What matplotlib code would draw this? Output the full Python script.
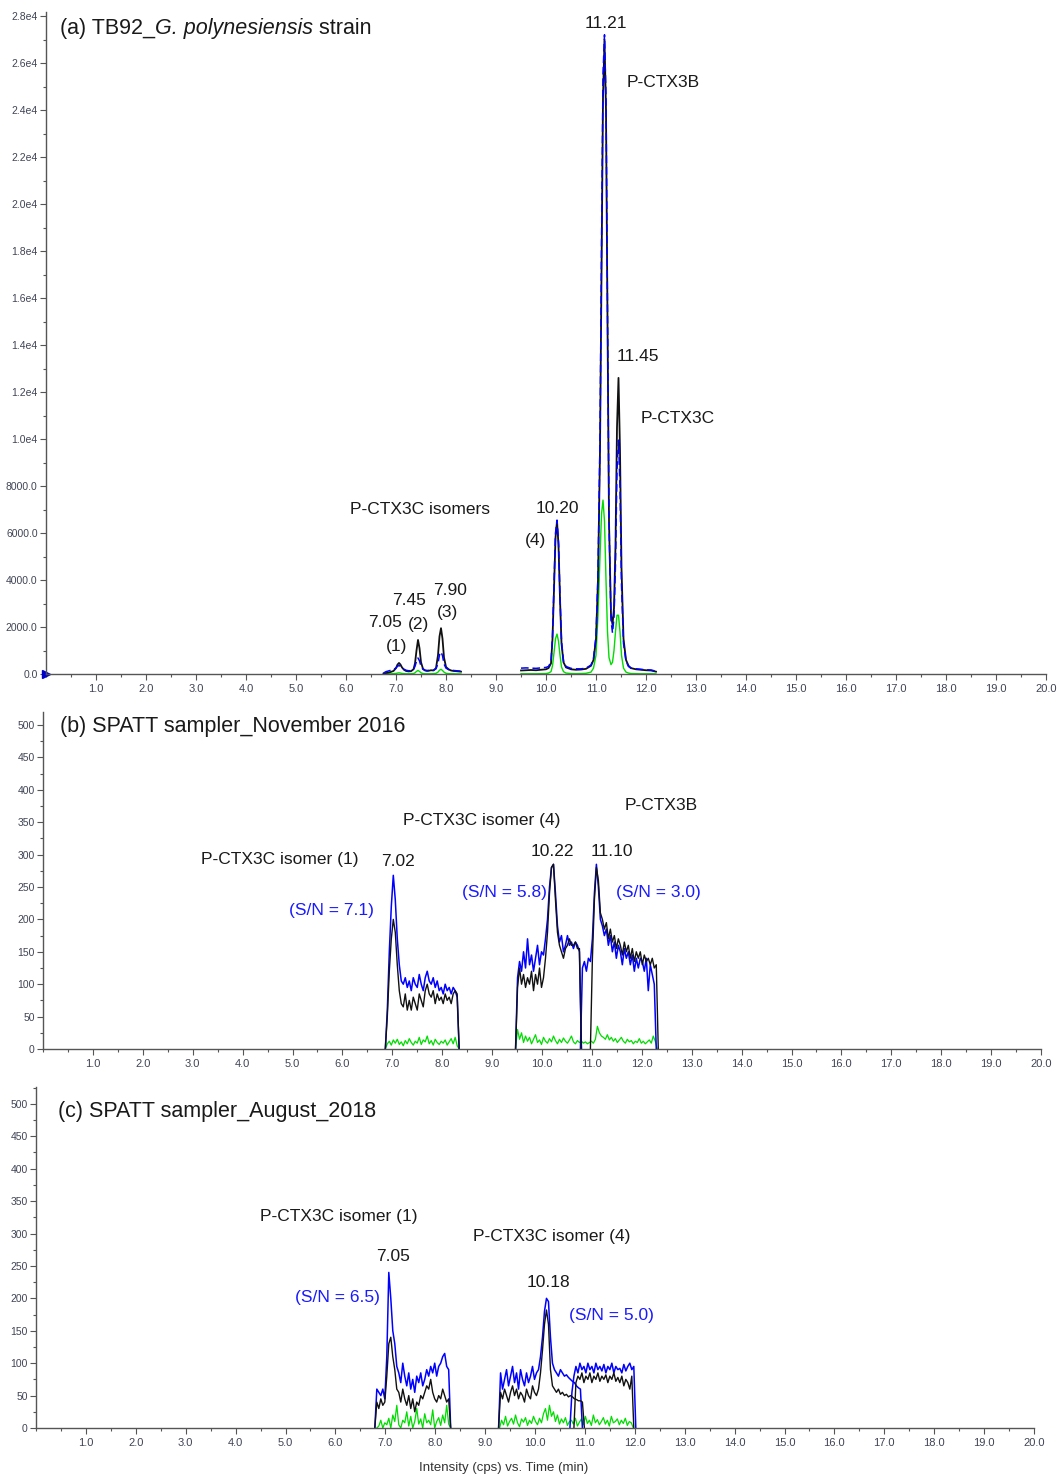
import numpy as np
import matplotlib
matplotlib.use("Agg")
import matplotlib.pyplot as plt
from matplotlib.ticker import MultipleLocator, FuncFormatter

plt.rcParams['font.family'] = ['Liberation Sans', 'DejaVu Sans']

# ---------------- Panel (a) data : TB92 strain ----------------
a1_time = [6.75, 6.80, 6.85, 6.90, 6.95, 7.00, 7.03, 7.06, 7.09, 7.12, 7.16, 7.20, 7.25, 7.30,
           7.35, 7.38, 7.41, 7.44, 7.47, 7.50, 7.54, 7.58, 7.62, 7.66, 7.70, 7.75, 7.80, 7.84,
           7.87, 7.90, 7.93, 7.96, 8.00, 8.05, 8.10, 8.15, 8.20, 8.25, 8.30]
a1_black = [20, 40, 60, 90, 130, 250, 400, 470, 400, 280, 180, 130, 110, 120, 200, 450, 1000, 1450,
            1100, 500, 220, 150, 130, 140, 160, 150, 250, 800, 1600, 1950, 1500, 700, 300, 200,
            150, 130, 120, 110, 100]
a1_blue = [40, 100, 130, 160, 190, 260, 330, 360, 330, 260, 200, 160, 140, 140, 190, 330, 540, 680,
           560, 330, 200, 160, 150, 150, 160, 160, 220, 450, 820, 940, 780, 430, 250, 190, 170,
           150, 140, 130, 120]
a1_green = [0, 5, 10, 10, 15, 25, 40, 50, 40, 25, 15, 10, 10, 10, 20, 50, 110, 150, 110, 50, 20,
            10, 10, 10, 10, 15, 30, 80, 160, 200, 150, 80, 30, 15, 10, 10, 5, 5, 0]

a2_time = [9.50, 9.60, 9.70, 9.80, 9.90, 10.00, 10.05, 10.10, 10.13, 10.16, 10.19, 10.22, 10.25,
           10.28, 10.31, 10.35, 10.40, 10.50, 10.60, 10.70, 10.80, 10.90, 10.95, 11.00, 11.04,
           11.08, 11.11, 11.14, 11.17, 11.20, 11.23, 11.26, 11.30, 11.33, 11.36, 11.39, 11.42,
           11.45, 11.48, 11.51, 11.55, 11.60, 11.65, 11.70, 11.80, 11.90, 12.00, 12.10, 12.20]
a2_black = [150, 160, 170, 160, 180, 200, 250, 450, 1500, 3600, 5800, 6500, 5500, 3200, 1300, 500,
            280, 200, 180, 190, 220, 350, 600, 1500, 4000, 9500, 17000, 24500, 27000, 24000,
            15000, 6500, 2500, 2100, 2800, 5500, 10500, 12600, 9500, 4500, 1500, 600, 350, 250,
            200, 180, 160, 150, 100]
a2_blue = [250, 260, 250, 240, 260, 280, 320, 520, 1600, 3800, 6000, 6550, 5600, 3300, 1400, 550,
           320, 240, 220, 220, 250, 380, 650, 1600, 4200, 10000, 18000, 25500, 27200, 24500,
           15500, 6500, 2300, 1750, 2400, 4700, 8700, 9950, 8000, 3800, 1300, 550, 320, 250, 220,
           200, 180, 170, 120]
a2_green = [10, 10, 10, 10, 15, 20, 40, 100, 350, 900, 1500, 1700, 1400, 800, 300, 100, 40, 20,
            15, 20, 30, 80, 250, 800, 2500, 5000, 6800, 7400, 6500, 4000, 1800, 700, 400, 500,
            1000, 1800, 2500, 2500, 1800, 800, 250, 80, 40, 20, 15, 10, 10, 10, 5]

# ---------------- Panel (b) data : SPATT Nov 2016 (sampling step 0.04 min) ----------------
STEP = 0.04
b1_blue_t0 = 6.86
b1_blue = [0, 60, 150, 220, 268, 230, 170, 130, 105, 100, 110, 95, 105, 90, 110, 100, 95, 115,
           100, 90, 110, 120, 105, 100, 110, 95, 105, 90, 95, 85, 100, 90, 95, 85, 95, 90, 80, 0]
b1_black_t0 = 6.86
b1_black = [0, 50, 120, 170, 200, 180, 130, 90, 70, 65, 85, 60, 75, 60, 80, 70, 60, 85, 75, 65,
            90, 100, 85, 80, 90, 70, 85, 75, 80, 70, 85, 75, 80, 70, 85, 90, 85, 0]
b1_green_t0 = 6.86
b1_green = [0, 8, 12, 6, 14, 9, 15, 7, 11, 5, 13, 8, 16, 10, 6, 12, 9, 18, 7, 14, 11, 20, 8, 13,
            6, 15, 10, 7, 12, 9, 14, 6, 11, 16, 8, 18, 5, 0]

b2_blue_t0 = 9.47
b2_blue = [0, 110, 135, 120, 150, 125, 170, 130, 145, 120, 140, 160, 130, 150, 145, 170, 200, 250,
           280, 285, 240, 190, 165, 175, 150, 160, 175, 160, 165, 155, 165, 160, 150, 0]
b2_black_t0 = 9.47
b2_black = [0, 95, 125, 100, 115, 95, 110, 100, 120, 90, 115, 100, 125, 95, 110, 140, 180, 240,
            280, 285, 230, 180, 160, 150, 140, 155, 160, 170, 160, 160, 165, 155, 155, 0]
b3_blue_t0 = 10.77
b3_blue = [0, 125, 135, 120, 140, 135, 170, 240, 285, 250, 200, 190, 175, 185, 160, 175, 150, 165,
           140, 160, 150, 130, 155, 140, 150, 130, 145, 120, 140, 125, 140, 135, 120, 140, 90,
           130, 115, 100, 0]
b3_black_t0 = 10.97
b3_black = [0, 140, 230, 280, 260, 210, 200, 185, 195, 170, 185, 165, 175, 155, 170, 160, 145,
            165, 150, 160, 140, 155, 135, 150, 140, 150, 130, 145, 135, 140, 130, 140, 125, 130, 0]
b2_green_t0 = 9.47
b2_green = [0, 30, 15, 25, 10, 20, 12, 18, 8, 15, 22, 10, 14, 7, 18, 12, 9, 16, 11, 20, 13, 8, 15,
            10, 17, 12, 9, 14, 20, 11, 8, 13, 10, 12, 9, 11, 8, 10, 12, 9, 15, 35, 25, 20, 18, 15,
            22, 14, 18, 12, 16, 10, 14, 18, 12, 9, 15, 11, 13, 8, 12, 10, 16, 9, 12, 8, 11, 14, 9,
            20, 12, 0]

# ---------------- Panel (c) data : SPATT Aug 2018 ----------------
c1_blue_t0 = 6.79
c1_blue = [0, 60, 55, 50, 60, 45, 110, 240, 200, 150, 130, 95, 85, 70, 100, 80, 65, 85, 60, 75, 55,
           80, 70, 85, 65, 75, 90, 80, 95, 85, 100, 80, 95, 100, 110, 115, 95, 90, 0]
c1_black_t0 = 6.79
c1_black = [0, 40, 30, 45, 35, 40, 80, 130, 140, 110, 90, 60, 55, 40, 60, 45, 35, 50, 30, 45, 25,
            40, 35, 50, 45, 55, 65, 60, 75, 55, 45, 40, 50, 45, 60, 50, 40, 45, 0]
c1_green_t0 = 6.83
c1_green = [0, 3, 12, 0, 8, 5, 15, 0, 20, 10, 35, 5, 0, 12, 8, 25, 3, 18, 0, 10, 30, 6, 14, 0, 22,
            8, 12, 5, 28, 0, 10, 16, 4, 20, 8, 35, 6, 0]

c2_blue_t0 = 9.27
c2_blue = [0, 85, 60, 75, 90, 65, 80, 95, 70, 85, 60, 90, 75, 65, 85, 70, 80, 95, 75, 85, 90, 110,
           140, 180, 200, 195, 140, 100, 90, 85, 80, 90, 85, 80, 82, 78, 75, 72, 70, 65, 62, 60, 0]
c2_black_t0 = 9.27
c2_black = [0, 55, 45, 60, 50, 40, 55, 65, 50, 60, 45, 55, 50, 40, 60, 50, 45, 65, 55, 50, 60, 85,
            120, 160, 182, 160, 90, 65, 60, 55, 60, 52, 55, 50, 52, 48, 50, 48, 45, 44, 42, 42,
            40, 0]
c3_blue_t0 = 10.70
c3_blue = [0, 55, 80, 95, 85, 100, 90, 95, 85, 100, 90, 95, 85, 100, 90, 95, 88, 98, 85, 95, 90,
           100, 85, 95, 90, 92, 85, 98, 88, 95, 100, 90, 95, 0]
c3_black_t0 = 10.78
c3_black = [0, 70, 80, 75, 85, 70, 80, 75, 85, 70, 80, 75, 85, 72, 80, 75, 82, 70, 80, 75, 85, 72,
            78, 70, 80, 65, 75, 70, 60, 80, 0]
c2_green_t0 = 9.29
c2_green = [0, 12, 5, 18, 3, 10, 15, 6, 20, 8, 2, 14, 9, 16, 4, 12, 7, 18, 10, 5, 15, 8, 22, 30,
            12, 35, 18, 25, 10, 20, 6, 14, 8, 16, 4, 10, 12, 6, 15, 3, 9, 14, 5, 18, 7, 12, 4, 20,
            8, 13, 5, 10, 16, 6, 12, 3, 18, 8, 10, 14, 5, 12, 7, 15, 4, 10, 8, 0]

x_tick_labels = ["%.1f" % v for v in range(1, 21)]

BLUE = "#0000ff"
BLACK = "#111111"
GREEN = "#00dd00"
TEXT = "#1a1a1a"
TICKC = "#404455"


def seg(t0, vals):
    return t0 + STEP * np.arange(len(vals)), np.asarray(vals, float)


fig = plt.figure(figsize=(10.57, 14.76), dpi=100)
W, H = 1057.0, 1476.0


def make_ax(left, bottom_px, top_px, right_px, ymax):
    ax = fig.add_axes([left / W, 1 - bottom_px / H, (right_px - left) / W, (bottom_px - top_px) / H])
    ax.set_xlim(0, 20)
    ax.set_ylim(0, ymax)
    for s in ("top", "right"):
        ax.spines[s].set_visible(False)
    for s in ("left", "bottom"):
        ax.spines[s].set_color("#555555")
        ax.spines[s].set_linewidth(1.0)
    ax.xaxis.set_minor_locator(MultipleLocator(0.5))
    ax.set_xticks(range(1, 21))
    ax.set_xticklabels(x_tick_labels)
    ax.tick_params(axis="both", which="major", length=4, width=0.8, color="#555555",
                   labelsize=8, labelcolor=TICKC, pad=2)
    ax.tick_params(axis="both", which="minor", length=2.5, width=0.8, color="#555555")
    ax.tick_params(axis="x", pad=3)
    return ax


# ---- (a)
axa = make_ax(46, 674, 12, 1046, 28000 * 662 / 658)
axa.yaxis.set_major_locator(MultipleLocator(2000))
axa.yaxis.set_minor_locator(MultipleLocator(1000))
axa.yaxis.set_major_formatter(FuncFormatter(
    lambda v, p: ("%.1fe4" % (v / 1e4)) if v >= 10000 else ("%.1f" % v)))
axa.tick_params(axis="y", labelsize=7.5)
for t, g in ((a1_time, a1_green), (a2_time, a2_green)):
    axa.plot(t, g, color=GREEN, lw=1.0)
for t, k in ((a1_time, a1_black), (a2_time, a2_black)):
    axa.plot(t, k, color=BLACK, lw=1.3)
for t, b in ((a1_time, a1_blue), (a2_time, a2_blue)):
    axa.plot(t, b, color=BLUE, lw=1.1, dashes=(5, 2.5))
axa.plot([0], [0], marker=">", color="#0000cc", ms=6, clip_on=False)

t1 = axa.text(0.28, 27250, "(a) TB92_", fontsize=15.5, color=TEXT, va="baseline", ha="left")
t2 = axa.annotate("G. polynesiensis", xy=(1, 0), xycoords=t1, fontsize=15.5, color=TEXT,
                  style="italic", va="bottom", ha="left")
axa.annotate(" strain", xy=(1, 0), xycoords=t2, fontsize=15.5, color=TEXT,
             va="bottom", ha="left")

lab = dict(fontsize=12.5, color=TEXT, va="center")
axa.text(11.19, 27660, "11.21", ha="center", **lab)
axa.text(11.61, 25150, "P-CTX3B", ha="left", **lab)
axa.text(11.83, 13490, "11.45", ha="center", **lab)
axa.text(11.89, 10890, "P-CTX3C", ha="left", **lab)
axa.text(6.07, 6980, "P-CTX3C isomers", ha="left", **lab)
axa.text(10.23, 7060, "10.20", ha="center", **lab)
axa.text(9.79, 5700, "(4)", ha="center", **lab)
axa.text(8.09, 3570, "7.90", ha="center", **lab)
axa.text(8.03, 2600, "(3)", ha="center", **lab)
axa.text(7.27, 3110, "7.45", ha="center", **lab)
axa.text(7.45, 2090, "(2)", ha="center", **lab)
axa.text(6.79, 2210, "7.05", ha="center", **lab)
axa.text(7.01, 1190, "(1)", ha="center", **lab)

# ---- (b)
axb = make_ax(43, 1049, 712, 1041, 520)
axb.yaxis.set_major_locator(MultipleLocator(50))
axb.yaxis.set_minor_locator(MultipleLocator(25))
axb.tick_params(axis="y", labelsize=7.5)
for t0, v in ((b1_green_t0, b1_green), (b2_green_t0, b2_green)):
    axb.plot(*seg(t0, v), color=GREEN, lw=0.9)
for t0, v in ((b1_blue_t0, b1_blue), (b2_blue_t0, b2_blue), (b3_blue_t0, b3_blue)):
    axb.plot(*seg(t0, v), color=BLUE, lw=1.1)
for t0, v in ((b1_black_t0, b1_black), (b2_black_t0, b2_black), (b3_black_t0, b3_black)):
    axb.plot(*seg(t0, v), color=BLACK, lw=1.0)

axb.text(0.34, 498, "(b) SPATT sampler_November 2016", fontsize=15.5, color=TEXT,
         va="center", ha="left")
axb.text(11.66, 376, "P-CTX3B", ha="left", **lab)
axb.text(7.21, 352, "P-CTX3C isomer (4)", ha="left", **lab)
axb.text(3.17, 292, "P-CTX3C isomer (1)", ha="left", **lab)
axb.text(7.11, 290, "7.02", ha="center", **lab)
axb.text(10.20, 304, "10.22", ha="center", **lab)
axb.text(11.40, 304, "11.10", ha="center", **lab)
slab = dict(fontsize=12.5, color="#1a1aff", va="center", ha="center")
axb.text(5.79, 213, "(S/N = 7.1)", **slab)
axb.text(9.24, 241, "(S/N = 5.8)", **slab)
axb.text(12.34, 242, "(S/N = 3.0)", **slab)

# ---- (c)
axc = make_ax(36, 1428, 1087, 1034, 526)
axc.yaxis.set_major_locator(MultipleLocator(50))
axc.yaxis.set_minor_locator(MultipleLocator(25))
axc.tick_params(axis="y", labelsize=7.5)
for t0, v in ((c1_green_t0, c1_green), (c2_green_t0, c2_green)):
    axc.plot(*seg(t0, v), color=GREEN, lw=0.9)
for t0, v in ((c1_blue_t0, c1_blue), (c2_blue_t0, c2_blue), (c3_blue_t0, c3_blue)):
    axc.plot(*seg(t0, v), color=BLUE, lw=1.1)
for t0, v in ((c1_black_t0, c1_black), (c2_black_t0, c2_black), (c3_black_t0, c3_black)):
    axc.plot(*seg(t0, v), color=BLACK, lw=1.0)

axc.text(0.44, 488, "(c) SPATT sampler_August_2018", fontsize=15.5, color=TEXT,
         va="center", ha="left")
axc.text(4.49, 327, "P-CTX3C isomer (1)", ha="left", **lab)
axc.text(8.76, 296, "P-CTX3C isomer (4)", ha="left", **lab)
axc.text(7.15, 264, "7.05", ha="center", **lab)
axc.text(10.26, 225, "10.18", ha="center", **lab)
axc.text(6.05, 201, "(S/N = 6.5)", **slab)
axc.text(11.54, 173, "(S/N = 5.0)", **slab)

fig.text(504 / W, 1 - 1468 / H, "Intensity (cps) vs. Time (min)", fontsize=9.5,
         color="#333333", ha="center", va="center")

fig.savefig("out.png", dpi=100)
